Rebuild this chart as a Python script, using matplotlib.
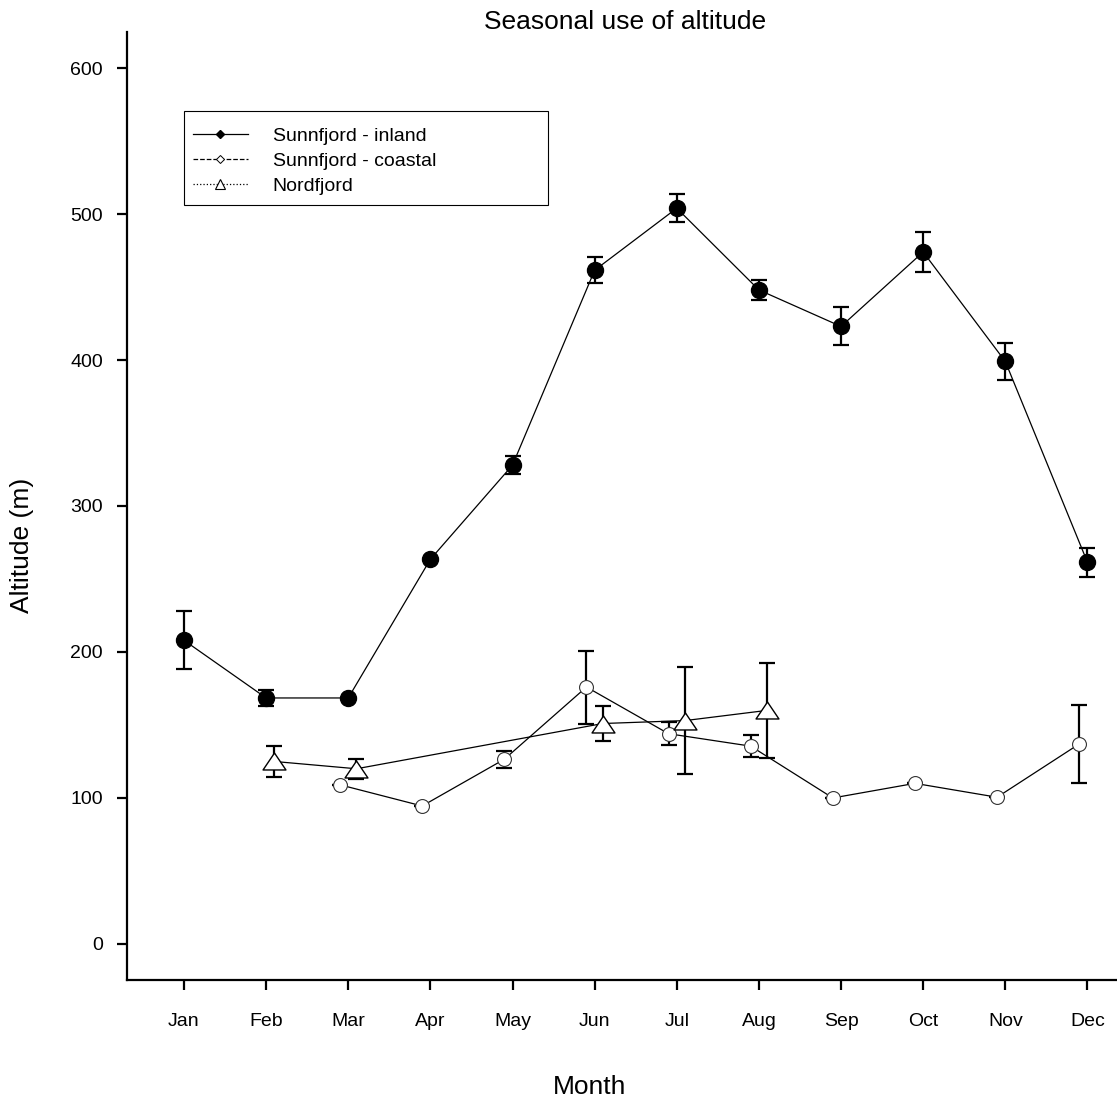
import numpy as np
import matplotlib
matplotlib.use("Agg")
import matplotlib.pyplot as plt
from matplotlib.lines import Line2D
from matplotlib.patches import Rectangle

plt.rcParams["font.family"] = ["Liberation Sans", "DejaVu Sans"]

months = ["Jan", "Feb", "Mar", "Apr", "May", "Jun",
          "Jul", "Aug", "Sep", "Oct", "Nov", "Dec"]

# Sunnfjord - inland (all months)
inland_mean = [208, 168.5, 168.5, 263.5, 328, 461.5, 504, 448, 423, 474, 399, 261.5]
inland_err = [20, 5.5, 0, 0, 6, 9, 9.5, 7, 13, 13.5, 12.5, 10]

# Sunnfjord - coastal (Mar..Dec)
coastal_idx = [2, 3, 4, 5, 6, 7, 8, 9, 10, 11]
coastal_mean = [109, 94.5, 126.5, 176, 144, 135.5, 100, 110, 100.5, 137]
coastal_err = [0, 0, 6, 25, 8, 7.5, 0, 0, 0, 27]

# Nordfjord
nord_idx = [1, 2, 5, 6, 7]
nord_mean = [125, 120, 151, 153, 160]
nord_err = [10.5, 7, 12, 36.5, 32.5]

JIT = 0.1  # small horizontal offset between groups

fig = plt.figure(figsize=(11.17, 11.01), dpi=100)
ax = fig.add_axes([127 / 1117, 121 / 1101, 990 / 1117, 948 / 1101])

x_in = np.arange(len(months))
x_co = np.array(coastal_idx) - JIT
x_no = np.array(nord_idx) + JIT

eb = dict(fmt="none", ecolor="black", elinewidth=1.6, capsize=5.8, capthick=1.6, zorder=2)
ax.errorbar(x_in, inland_mean, yerr=inland_err, **eb)
ax.errorbar(x_co, coastal_mean, yerr=coastal_err, **eb)
ax.errorbar(x_no, nord_mean, yerr=nord_err, **eb)

tri = [(0, 0.74), (-1, -0.74), (1, -0.74), (0, 0.74)]
ax.plot(x_in, inland_mean, "-", color="black", lw=0.9, marker="o", ms=11.5,
        mfc="black", mec="black", zorder=3)
ax.plot(x_co, coastal_mean, "-", color="black", lw=0.9, marker="o", ms=10,
        mfc="white", mec="#333333", mew=0.8, zorder=3)
ax.plot(x_no, nord_mean, "-", color="black", lw=0.9, marker=tri, ms=16.5,
        mfc="white", mec="black", mew=1.0, zorder=3)

ax.set_xlim(-0.694, 11.36)
ax.set_ylim(-24.7, 624.7)
ax.set_xticks(x_in)
ax.set_xticklabels(months)
ax.set_yticks([0, 100, 200, 300, 400, 500, 600])

for s in ["top", "right"]:
    ax.spines[s].set_visible(False)
for s in ["left", "bottom"]:
    ax.spines[s].set_linewidth(1.6)
ax.tick_params(axis="both", direction="out", length=7.2, width=1.6, labelsize=14)
ax.tick_params(axis="x", pad=16.5)
ax.tick_params(axis="y", pad=10)

ax.set_xlabel("Month", fontsize=19, va="center", ha="center")
ax.set_ylabel("Altitude (m)", fontsize=19, va="center", ha="center")
ax.xaxis.set_label_coords(0.4677, -0.113)
ax.yaxis.set_label_coords(-0.106, 0.458)

fig.text(625 / 1117, 1 - 22 / 1101, "Seasonal use of altitude", fontsize=19,
         ha="center", va="center")

# legend
handles = [
    Line2D([], [], color="black", lw=0.9, ls="-", marker="D", ms=4, mfc="black", mec="black"),
    Line2D([], [], color="black", lw=0.9, ls="--", marker="D", ms=4, mfc="white", mec="black", mew=0.7),
    Line2D([], [], color="black", lw=0.9, ls=":", marker="^", ms=7, mfc="white", mec="black", mew=0.8),
]
labels = ["Sunnfjord - inland", "Sunnfjord - coastal", "Nordfjord"]
ax.legend(handles, labels, loc="upper left", bbox_to_anchor=(49 / 990, (980 - 111) / 948),
          frameon=False, fontsize=14, handlelength=2.83, handletextpad=1.29,
          labelspacing=0.38, borderpad=0.85, borderaxespad=0)
ax.add_patch(Rectangle((57 / 990, (980 - 205) / 948), 364 / 990, 94 / 948,
                       transform=ax.transAxes, fill=False, edgecolor="black",
                       lw=0.8, clip_on=False, zorder=5))

fig.savefig("out.png", dpi=100)
